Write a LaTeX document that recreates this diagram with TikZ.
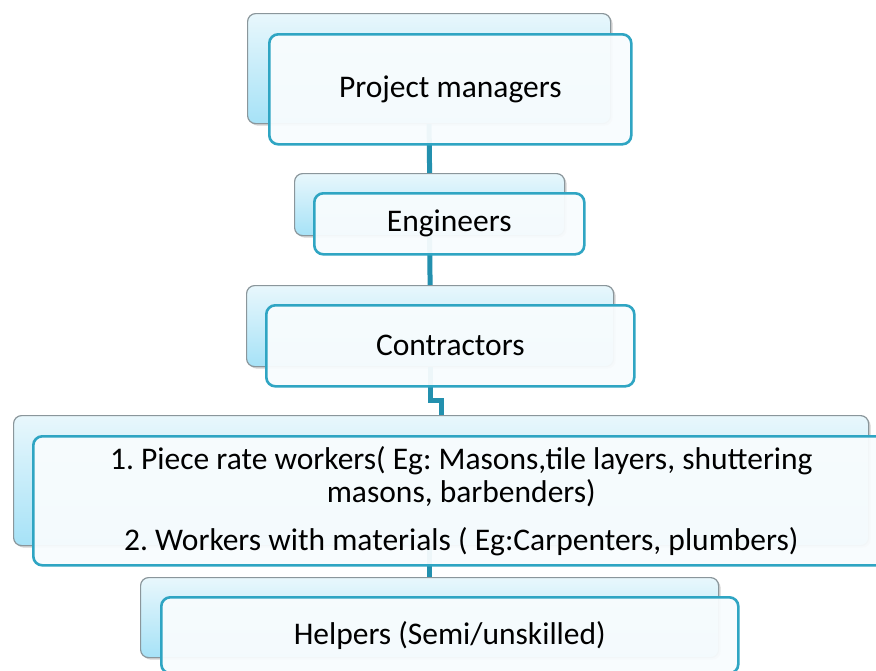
\documentclass[tikz,border=0pt]{standalone}
\usepackage{fontspec}
\setmainfont{Carlito}
\usetikzlibrary{shadows,calc}
\definecolor{backtop}{HTML}{E8F7FC}
\definecolor{backbot}{HTML}{A6E2F7}
\definecolor{backedge}{HTML}{8A969B}
\definecolor{frontedge}{HTML}{2FA5C3}
\definecolor{frontfill}{HTML}{F8FCFE}
\definecolor{connc}{HTML}{2390AE}
\tikzset{
  backbox/.style={draw=backedge, line width=1.2pt, rounded corners=8pt,
    top color=backtop, bottom color=backbot,
    drop shadow={shadow xshift=2pt, shadow yshift=-2pt, opacity=0.35},
    anchor=north west, inner sep=0pt},
  frontbox/.style={draw=frontedge, line width=2.6pt, rounded corners=9pt,
    fill=frontfill, fill opacity=0.95, text opacity=1, anchor=north west,
    inner sep=0pt, align=center, font=\fontsize{31.5}{33}\selectfont\frenchspacing},
  conn/.style={draw=connc, line width=5pt}
}
\begin{document}
\begin{tikzpicture}[x=1pt,y=-1pt]
\clip (0,0) rectangle (876,670);
\fill[white] (0,0) rectangle (876,670);
% back boxes
\node[backbox, minimum width=363pt, minimum height=110pt] (b1) at (247,13) {};
\node[backbox, minimum width=270pt, minimum height=62pt] (b2) at (294,173) {};
\node[backbox, minimum width=367pt, minimum height=81pt] (b3) at (246,285) {};
\node[backbox, minimum width=855pt, minimum height=130pt] (b4) at (13,415) {};
\node[backbox, minimum width=578pt, minimum height=80pt] (b5) at (140,577) {};
% connector coordinates
\coordinate (j) at (0,400);
% connectors
\draw[conn] (b1.south) -- (b2.north);
\draw[conn] (b2.south) -- (b3.north);
\draw[conn] (b3.south) -- (b3.south |- j) -| (b4.north);
\draw[conn] (b4.south -| b5.north) -- (b5.north);
% front boxes
\node[frontbox, minimum width=362pt, minimum height=110pt] (f1) at (268,33) {Project managers};
\node[frontbox, minimum width=270pt, minimum height=61pt] (f2) at (313,192) {Engineers};
\node[frontbox, minimum width=368pt, minimum height=81pt] (f3) at (265,304) {Contractors};
\node[frontbox, minimum width=856pt, minimum height=129pt] (f4) at (32,435) {1. Piece rate workers( Eg: Masons,tile layers, shuttering\\ masons, barbenders)\\[15pt] 2. Workers with materials ( Eg:Carpenters, plumbers)};
\node[frontbox, minimum width=577pt, minimum height=76pt] (f5) at (160,596) {Helpers (Semi/unskilled)};
\end{tikzpicture}
\end{document}
